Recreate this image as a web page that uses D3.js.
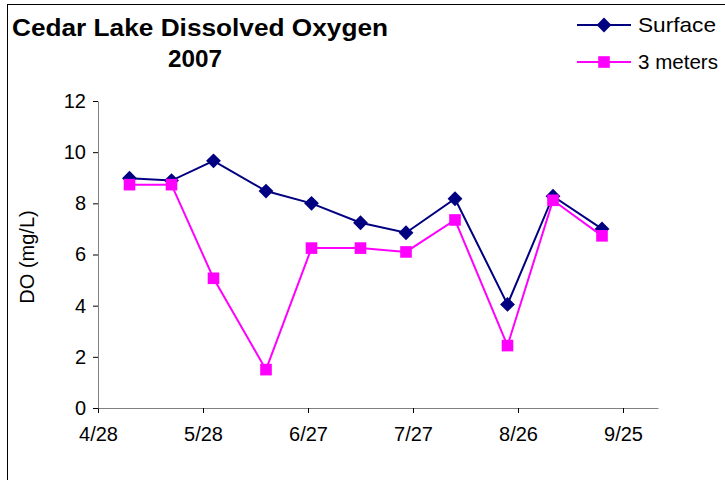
<!DOCTYPE html>
<meta charset="utf-8">
<style>
  body { margin: 0; background: #fff; }
  text { font-family: "Liberation Sans", Arial, sans-serif; }
  .axis path { stroke: #808080; }
  .axis line { stroke: #000; }
</style>
<script src="https://d3js.org/d3.v7.min.js"></script>
<div id="chart"></div>
<script>
  // sampling dates (2007) and DO readings, mg/L
  var dates = ["5/7", "5/19", "5/31", "6/15", "6/28", "7/12", "7/25", "8/8", "8/23", "9/5", "9/19"];
  var surface = [8.98, 8.89, 9.66, 8.48, 8.0, 7.24, 6.85, 8.18, 4.05, 8.28, 7.0];
  var threeMeters = [8.73, 8.73, 5.07, 1.5, 6.25, 6.25, 6.1, 7.35, 2.44, 8.12, 6.73];
  var xTickLabels = ["4/28", "5/28", "6/27", "7/27", "8/26", "9/25"];
  var yTicks = [0, 2, 4, 6, 8, 10, 12];

  var parse = d3.timeParse("%m/%d/%Y");
  function toDate(s) { return parse(s + "/2007"); }

  // square diamond (equal width and height), like Excel's marker
  var excelDiamond = {
    draw: function(ctx, size) {
      var r = Math.sqrt(size / 2);
      ctx.moveTo(0, -r);
      ctx.lineTo(r, 0);
      ctx.lineTo(0, r);
      ctx.lineTo(-r, 0);
      ctx.closePath();
    }
  };

  var width = 725, height = 480;
  var svg = d3.select("#chart").append("svg")
      .attr("width", width)
      .attr("height", height);

  // outer chart border
  svg.append("rect")
      .attr("x", 7.5).attr("y", 4.5)
      .attr("width", 740).attr("height", 500)
      .attr("fill", "none")
      .attr("stroke", "#000")
      .attr("stroke-width", 1);

  var x = d3.scaleTime()
      .domain([toDate("4/28"), toDate("10/5")])
      .range([98, 658]);

  var y = d3.scaleLinear()
      .domain([0, 12])
      .range([408, 101]);

  function styleLabels(g) {
    g.selectAll("text").attr("font-size", 20).attr("fill", "#000")
      .attr("font-family", "Liberation Sans, Arial, sans-serif");
  }

  // axes
  svg.append("g")
      .attr("class", "axis")
      .attr("transform", "translate(0,408)")
      .call(d3.axisBottom(x)
        .tickValues(xTickLabels.map(toDate))
        .tickFormat(d3.timeFormat("%-m/%-d"))
        .tickSize(5)
        .tickSizeOuter(0)
        .tickPadding(14))
      .call(styleLabels);

  svg.append("g")
      .attr("class", "axis")
      .attr("transform", "translate(98,0)")
      .call(d3.axisLeft(y)
        .tickValues(yTicks)
        .tickSize(5)
        .tickSizeOuter(0)
        .tickPadding(7))
      .call(styleLabels);

  svg.append("text")
      .attr("transform", "translate(34,257) rotate(-90)")
      .attr("text-anchor", "middle")
      .attr("font-size", 20)
      .text("DO (mg/L)");

  // title
  svg.append("text")
      .attr("x", 12).attr("y", 36)
      .attr("font-size", 23)
      .attr("font-weight", "bold")
      .attr("textLength", 376)
      .attr("lengthAdjust", "spacingAndGlyphs")
      .text("Cedar Lake Dissolved Oxygen");
  svg.append("text")
      .attr("x", 168).attr("y", 67)
      .attr("font-size", 23)
      .attr("font-weight", "bold")
      .attr("textLength", 54)
      .attr("lengthAdjust", "spacingAndGlyphs")
      .text("2007");

  var series = [
    {name: "Surface", values: surface, color: "#000080", shape: excelDiamond, size: 110},
    {name: "3 meters", values: threeMeters, color: "#FF00FF", shape: d3.symbolSquare, size: 135}
  ];

  var line = d3.line()
      .x(function(d) { return x(d.date); })
      .y(function(d) { return y(d.value); });

  series.forEach(function(s) {
    var pts = dates.map(function(d, i) { return {date: toDate(d), value: s.values[i]}; });
    svg.append("path")
        .datum(pts)
        .attr("fill", "none")
        .attr("stroke", s.color)
        .attr("stroke-width", 2)
        .attr("d", line);
    svg.append("g").selectAll("path")
        .data(pts)
        .enter().append("path")
          .attr("transform", function(d) { return "translate(" + x(d.date) + "," + y(d.value) + ")"; })
          .attr("d", d3.symbol().type(s.shape).size(s.size))
          .attr("fill", s.color);
  });

  // legend
  var legend = svg.selectAll(".legend")
      .data(series)
      .enter().append("g")
      .attr("class", "legend")
      .attr("transform", function(d, i) { return "translate(0," + (25 + i * 37) + ")"; });

  legend.append("line")
      .attr("x1", 577).attr("x2", 631)
      .attr("stroke", function(d) { return d.color; })
      .attr("stroke-width", 2);
  legend.append("path")
      .attr("transform", "translate(604,0)")
      .attr("d", function(d) { return d3.symbol().type(d.shape).size(d.size)(); })
      .attr("fill", function(d) { return d.color; });
  legend.append("text")
      .attr("x", 638).attr("y", 0)
      .attr("dy", "0.35em")
      .attr("font-size", 21)
      .attr("textLength", function(d, i) { return i === 0 ? 78 : 80; })
      .attr("lengthAdjust", "spacingAndGlyphs")
      .text(function(d) { return d.name; });
</script>
